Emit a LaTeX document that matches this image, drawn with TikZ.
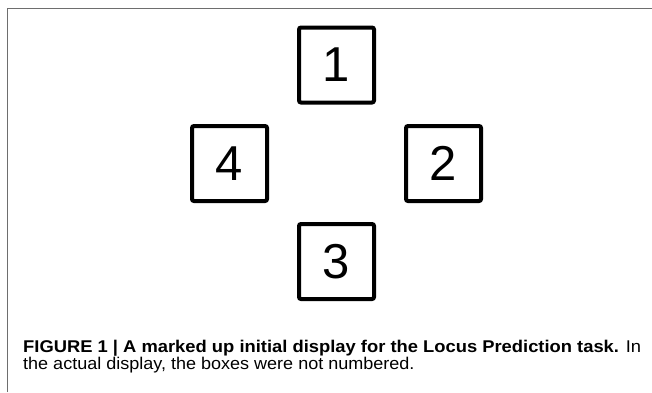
\documentclass[tikz,border=0pt]{standalone}
\usepackage{fontspec}
\setmainfont{Liberation Sans}
\usepackage{xcolor}
\usetikzlibrary{positioning}
\definecolor{framegray}{HTML}{6E6E6E}
\newcommand{\capline}[2][1.08]{\scalebox{#1}[1]{#2}}
\tikzset{
  numbox/.style ={draw, line width=4pt, rounded corners=2pt, minimum size=75pt,
                  inner sep=0pt, font=\fontsize{49}{49}\selectfont},
  fframe/.style ={draw=framegray, line width=1.5pt},
  fcap/.style   ={align=left, inner sep=0pt, font=\fontsize{17}{17}\selectfont},
}
\begin{document}
\begin{tikzpicture}[x=1pt, y=-1pt]
\useasboundingbox (0,0) rectangle (652,392);

% panel frame
\draw[fframe] (7.5,392) |- (652,8.5);

\coordinate (mid) at (336.5,163.5);
\node[numbox, above=59pt of mid] (b1) {1};
\node[numbox, right=67.5pt of mid] (b2) {2};
\node[numbox, below=58.5pt of mid] (b3) {3};
\node[numbox, left=67.5pt of mid] (b4) {4};

% base anchor sits on the last line
\node[fcap, anchor=base west] (cap) at (23,369)
  {\capline{\textbf{FIGURE 1 | A marked up initial display for the Locus Prediction task.} In}\\
   \capline[1.06]{the actual display, the boxes were not numbered.}};

\end{tikzpicture}
\end{document}
